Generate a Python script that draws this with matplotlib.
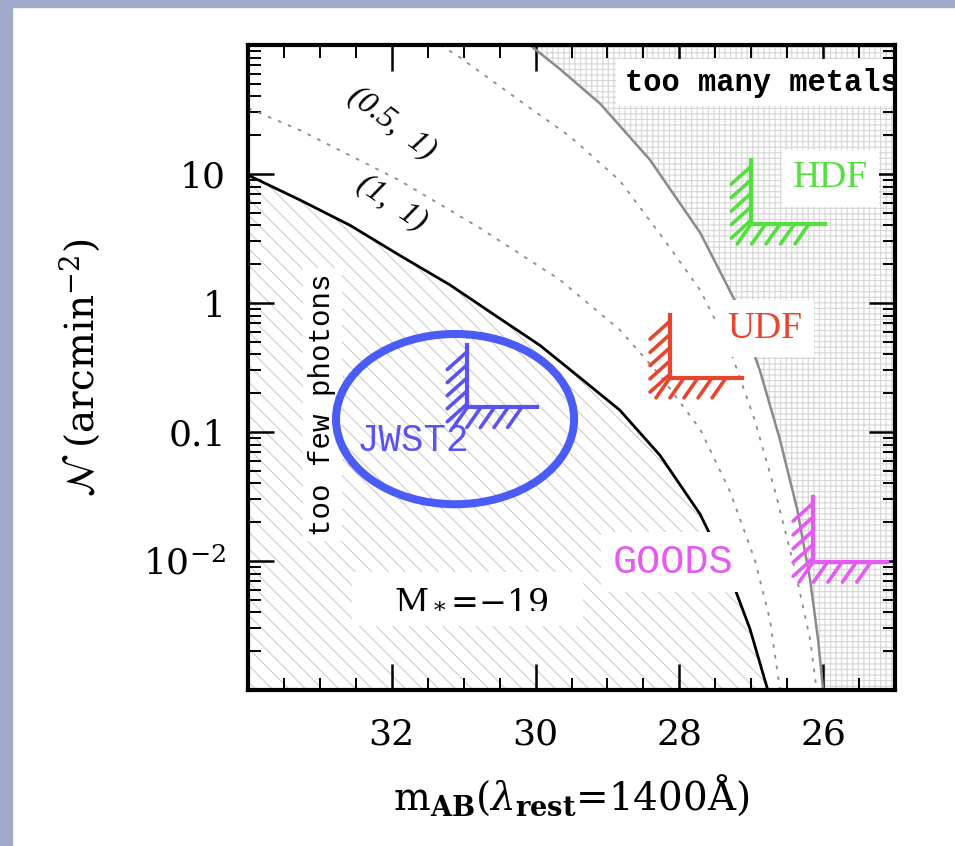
import numpy as np
import matplotlib
matplotlib.use('Agg')
import matplotlib.pyplot as plt
from matplotlib.patches import Ellipse, Rectangle
from matplotlib.ticker import FixedLocator, MultipleLocator, LogLocator, NullFormatter

plt.rcParams['font.family'] = 'DejaVu Serif'
plt.rcParams['mathtext.fontset'] = 'dejavuserif'
plt.rcParams['hatch.linewidth'] = 0.8

# M* = -19 limit (solid line), "too few photons" below it
m_phot = [34.0, 33.28, 32.58, 31.89, 31.19, 30.50, 29.94, 29.38, 28.83, 28.27, 27.71, 27.30, 27.02, 26.77]
n_phot = [9.8, 6.3, 4.0, 2.34, 1.38, 0.76, 0.47, 0.263, 0.148, 0.066, 0.023, 0.0078, 0.003, 0.001]

# dotted curve (1, 1)
m_11 = [34.0, 33.28, 31.89, 30.77, 29.66, 28.83, 28.27, 27.71, 27.30, 26.95, 26.74, 26.60]
n_11 = [32.4, 21.9, 8.9, 3.8, 1.51, 0.62, 0.275, 0.105, 0.035, 0.0102, 0.0035, 0.001]

# dotted curve (0.5, 1)
m_051 = [31.33, 31.09, 30.22, 29.52, 28.83, 28.23, 27.71, 27.30, 26.95, 26.67, 26.39, 26.18, 26.09]
n_051 = [100, 83, 37, 19.5, 8.9, 3.2, 1.26, 0.44, 0.123, 0.035, 0.0085, 0.00245, 0.001]

# "too many metals" boundary
m_met = [30.08, 29.66, 29.10, 28.41, 27.71, 27.23, 26.88, 26.60, 26.36, 26.18, 26.07, 26.0]
n_met = [100, 65, 35, 12.9, 3.5, 1.05, 0.30, 0.087, 0.025, 0.0071, 0.00245, 0.001]

# survey limits (L markers)
surveys = ['HDF', 'UDF', 'GOODS', 'JWST2']
sv_mag = [27.0, 28.13, 26.14, 30.95]
sv_n = [4.1, 0.263, 0.0098, 0.155]
sv_ntop = [12.9, 0.81, 0.0316, 0.47]
sv_mend = [25.97, 27.13, 25.11, 29.98]
sv_color = ['#52e03c', '#e8452f', '#e45af2', '#5b52f2']
sv_font = ['Liberation Serif', 'Liberation Serif', 'Liberation Mono', 'Liberation Mono']
sv_size = [27, 27, 29, 27]
sv_lab_m = [25.9, 26.81, 28.09, 31.71]
sv_lab_n = [9.3, 0.63, 0.0098, 0.085]

fig = plt.figure(figsize=(9.55, 8.46), dpi=100)
fig.patches.append(Rectangle((0, 0), 0.0126, 1, transform=fig.transFigure,
                             color='#a1a9c9', zorder=0))
fig.patches.append(Rectangle((0, 1 - 0.0083), 1, 0.0083, transform=fig.transFigure,
                             color='#a1a9c9', zorder=0))
ax = fig.add_axes([0.2597, 0.1844, 0.6775, 0.7624])
ax.set_yscale('log')
ax.set_xlim(34, 25)
ax.set_ylim(1e-3, 100)

# shaded regions
ax.fill_between(m_phot, 1e-3, n_phot, facecolor='white', edgecolor='#cdcdcd',
                hatch='\\\\', lw=0, zorder=1)
ax.fill_betweenx(n_met, m_met, 25, facecolor='white', edgecolor='#d6d6d6',
                 hatch='+++', lw=0, zorder=1)

ax.plot(m_phot, n_phot, color='black', lw=2.0, zorder=3)
ax.plot(m_met, n_met, color='#8a8a8a', lw=1.8, zorder=3)
ax.plot(m_11, n_11, color='#8c8c8c', lw=1.3, ls=(0, (2, 4)), zorder=3)
ax.plot(m_051, n_051, color='#8c8c8c', lw=1.3, ls=(0, (2, 4)), zorder=3)

ax.text(32.0, 25, '(0.5,  1)', family='Liberation Serif', style='italic', fontsize=23,
        rotation=-37, ha='center', va='center', zorder=4)
ax.text(32.0, 6.0, '(1,  1)', family='Liberation Serif', style='italic', fontsize=23,
        rotation=-34, ha='center', va='center', zorder=4)

white = dict(facecolor='white', edgecolor='none', pad=6)
ax.text(28.76, 51, 'too many metals', family='Liberation Mono', weight='bold',
        fontsize=22, ha='left', va='center', bbox=white, clip_on=True, zorder=5)
ax.text(32.97, 0.163, 'too few photons', family='Liberation Mono', fontsize=21,
        rotation=90, ha='center', va='center',
        bbox=dict(facecolor='white', edgecolor='none', pad=4), zorder=5)
ax.text(30.95, 0.0051, '   M$_*$=\u221219   ', fontsize=24, ha='center', va='center',
        bbox=dict(facecolor='white', edgecolor='none', pad=8), zorder=5)

# survey limit markers
for name, m0, n0, nt, me, c, fam, fs, lm, ln in zip(
        surveys, sv_mag, sv_n, sv_ntop, sv_mend, sv_color, sv_font, sv_size,
        sv_lab_m, sv_lab_n):
    ax.plot([m0, m0, me], [nt, n0, n0], color=c, lw=3.0, zorder=6,
            solid_joinstyle='miter')
    lv = np.log10(n0) + np.linspace(0.06, 0.9, 5) * (np.log10(nt) - np.log10(n0))
    for y in 10 ** lv:
        ax.annotate('', xy=(m0, y), xytext=(-20, -18), textcoords='offset pixels',
                    arrowprops=dict(arrowstyle='-', color=c, lw=2.6,
                                    shrinkA=0, shrinkB=0), zorder=6)
    for x in m0 + np.linspace(0.0, 0.78, 5) * (me - m0):
        ax.annotate('', xy=(x, n0), xytext=(-14, -20), textcoords='offset pixels',
                    arrowprops=dict(arrowstyle='-', color=c, lw=2.6,
                                    shrinkA=0, shrinkB=0), zorder=6)
    box = None if name == 'JWST2' else dict(facecolor='white', edgecolor='none', pad=8)
    ax.text(lm, ln, name, color=c, family=fam, fontsize=fs, ha='center', va='center',
            bbox=box, zorder=5)

ax.add_patch(Ellipse((0.320, 0.420), 0.368, 0.264, transform=ax.transAxes,
                     fill=False, ec='#4a5cf5', lw=5.8, zorder=10))

# axes styling
ax.xaxis.set_major_locator(FixedLocator([26, 28, 30, 32]))
ax.xaxis.set_minor_locator(MultipleLocator(0.5))
ax.yaxis.set_major_locator(FixedLocator([1e-2, 0.1, 1, 10]))
ax.set_yticklabels(['$10^{-2}$', '0.1', '1', '10'])
ax.yaxis.set_minor_locator(LogLocator(base=10, subs=np.arange(2, 10), numticks=20))
ax.yaxis.set_minor_formatter(NullFormatter())
ax.tick_params(which='both', direction='in', top=True, right=True, labelsize=26)
ax.tick_params(which='major', length=19, width=1.8)
ax.tick_params(which='minor', length=9, width=1.4)
ax.tick_params(axis='x', pad=20)
ax.tick_params(axis='y', pad=16)
for s in ax.spines.values():
    s.set_linewidth(3)
    s.set_zorder(11)

ax.set_xlabel(r'm$_{\mathbf{AB}}$($\lambda_{\mathbf{rest}}$=1400Å)', fontsize=28)
ax.xaxis.set_label_coords(0.5, -0.163)
ax.xaxis.label.set_verticalalignment('center')
ax.set_ylabel(r'$\mathcal{N}$ (arcmin$^{-2}$)', fontsize=28)
ax.yaxis.set_label_coords(-0.26, 0.5)
ax.yaxis.label.set_verticalalignment('center')

fig.savefig('out.png', dpi=100, facecolor='white')
